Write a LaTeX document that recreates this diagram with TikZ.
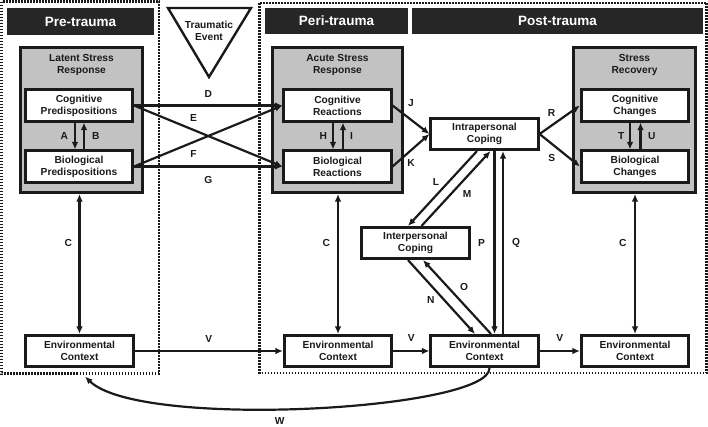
\documentclass[tikz,border=0pt]{standalone}
\usepackage{fontspec}
\setmainfont{Liberation Sans}
\usepackage{tikz}
\usetikzlibrary{positioning,arrows}
\usetikzlibrary{arrows.meta}
\usepackage{xcolor}
\definecolor{ink}{HTML}{1A1A1A}
\definecolor{darkbar}{HTML}{262626}
\definecolor{boxgray}{HTML}{C2C2C2}

\begin{document}
\begin{tikzpicture}[x=1pt,y=-1pt,>={Latex[length=7.5pt,width=6.5pt]}]
	\useasboundingbox (0,0) rectangle (708,426);
	\tikzstyle{every node}=[font=\fontsize{10.2}{12}\selectfont\bfseries, align=center, text=ink, inner sep=1pt]
	\tikzstyle{period}=[draw=ink, line width=2.4pt, dash pattern=on 1.6pt off 1.4pt]
	\tikzstyle{bar}=[fill=darkbar, text=white, font=\fontsize{13.5}{15}\selectfont\bfseries, minimum height=26pt, inner sep=0pt]
	\tikzstyle{stage}=[draw=ink, fill=boxgray, line width=3pt, minimum width=122pt, minimum height=145pt]
	\tikzstyle{part}=[draw=ink, fill=white, line width=2.6pt, minimum width=107.5pt, minimum height=31.5pt, inner sep=0pt]
	\tikzstyle{link}=[draw=ink, line width=2.2pt]

	% time frames
	\draw [period] (1.5,1.5) rectangle (159,373.5);
	\draw [period] (259.5,3) rectangle (706.5,373);
	\draw (80.5,21.5) node (pre) [bar, minimum width=147pt, minimum height=27pt] {Pre-trauma};
	\draw (336.5,21) node (peri) [bar, minimum width=143pt] {Peri-trauma};
	\draw (557.5,21) node (post) [bar, minimum width=291pt] {Post-trauma};
	\draw [draw=ink, line width=2.4pt] (168,8) -- (251,8) -- (209,77) -- cycle;
	\draw (209,30.5) node (event) {Traumatic\\Event};

	% stress responses
	\draw (81.5,120) node (latent) [stage] {};
	\draw (337.5,120) node (acute) [stage, minimum width=130pt] {};
	\draw (634.5,120) node (recovery) [stage] {};
	\draw (81.5,65) node (latentT) {Latent Stress\\Response};
	\draw (337.5,65) node (acuteT) {Acute Stress\\Response};
	\draw (634.5,65) node (recoveryT) {Stress\\Recovery};

	\draw (79,105.5) node (cogpred) [part] {Cognitive\\Predispositions};
	\draw (79,166.5) node (biopred) [part] {Biological\\Predispositions};
	\draw (337.5,105.5) node (cogreact) [part] {Cognitive\\Reactions};
	\draw (337.5,166.5) node (bioreact) [part] {Biological\\Reactions};
	\draw (635,105.5) node (cogchange) [part] {Cognitive\\Changes};
	\draw (635,166.5) node (biochange) [part] {Biological\\Changes};
	\draw (484.5,134) node (intra) [part] {Intrapersonal\\Coping};
	\draw (415.5,243) node (inter) [part] {Interpersonal\\Coping};

	\draw (79.5,351) node (env1) [part] {Environmental\\Context};
	\draw (338,351) node (env2) [part] {Environmental\\Context};
	\draw (484.5,351) node (env3) [part] {Environmental\\Context};
	\draw (635,351) node (env4) [part] {Environmental\\Context};

	% paths
	\draw [link,->] ([xshift=-4pt]cogpred.south) to node[left=5pt] {A} ([xshift=-4pt]biopred.north);
	\draw [link,->] ([xshift=5pt]biopred.north) to node[right=6pt] {B} ([xshift=5pt]cogpred.south);
	\draw [link,->] (cogpred.east) to node[above=5.5pt] {D} (cogreact.west);
	\draw [link,->] (cogpred.east) to node[pos=0.4, above=6.5pt] {E} (bioreact.west);
	\draw [link,->] (biopred.east) to node[pos=0.4, below=6.5pt] {F} (cogreact.west);
	\draw [link,->] (biopred.east) to node[below=8pt] {G} (bioreact.west);
	\draw [link,->] ([xshift=-4.5pt]cogreact.south) to node[left=4pt] {H} ([xshift=-4.5pt]bioreact.north);
	\draw [link,->] ([xshift=5.5pt]bioreact.north) to node[right=5pt] {I} ([xshift=5.5pt]cogreact.south);
	\draw [link,->] (cogreact.east) to node[above=11pt] {J} (intra.west);
	\draw [link,->] (bioreact.east) to node[below=7.5pt] {K} (intra.west);
	\draw [link,->] (intra.east) to node[pos=0.3, above=7pt] {R} (cogchange.west);
	\draw [link,->] (intra.east) to node[pos=0.3, below=9pt] {S} (biochange.west);
	\draw [link,->] ([xshift=-5pt]cogchange.south) to node[left=3.5pt] {T} ([xshift=-5pt]biochange.north);
	\draw [link,->] ([xshift=5.5pt]biochange.north) to node[right=5.5pt] {U} ([xshift=5.5pt]cogchange.south);

	\draw [link,<->] (env1.north) to node[pos=0.65, left=5.5pt] {C} (env1.north |- latent.south);
	\draw [link,<->] (env2.north) to node[pos=0.65, left=6pt] {C} (env2.north |- acute.south);
	\draw [link,<->] (env4.north) to node[pos=0.65, left=6.5pt] {C} (env4.north |- recovery.south);

	\draw [link,->] ([xshift=-7.5pt]intra.south) to node[pos=0.41, left=7.5pt] {L} ([xshift=-7.5pt]inter.north);
	\draw [link,->] ([xshift=6pt]inter.north) to node[pos=0.43, right=9.5pt] {M} ([xshift=6pt]intra.south);
	\draw [link,->] ([xshift=-7.5pt]inter.south) to node[pos=0.54, left=7.5pt] {N} ([xshift=-9.5pt]env3.north);
	\draw [link,->] ([xshift=6.5pt]env3.north) to node[pos=0.64, right=10.5pt] {O} ([xshift=7.5pt]inter.south);
	\draw [link,->] ([xshift=10pt]intra.south) to node[left=7.5pt] {P} ([xshift=10pt]env3.north);
	\draw [link,->] ([xshift=18.5pt]env3.north) to node[right=7pt] {Q} ([xshift=18.5pt]intra.south);

	\draw [link,->] (env1.east) to node[above=6.5pt] {V} (env2.west);
	\draw [link,->] (env2.east) to node[above=7pt] {V} (env3.west);
	\draw [link,->] (env3.east) to node[above=7pt] {V} (env4.west);
	\draw [link,->] ([xshift=5pt]env3.south) .. controls (490,410) and (140,430) .. node[pos=0.55, below=7pt] {W} ([xshift=5.5pt,yshift=-8.5pt]env1.south);
\end{tikzpicture}
\end{document}
